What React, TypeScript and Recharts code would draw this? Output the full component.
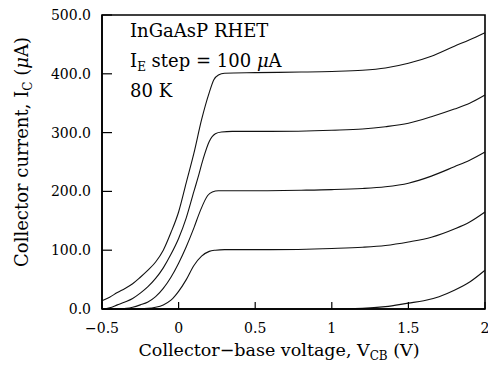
import React from 'react';
import { LineChart, Line, XAxis, YAxis, ReferenceArea } from 'recharts';

const xTicks = [-0.5, 0, 0.5, 1, 1.5, 2];
const xTickLabels = ['\u22120.5', '0', '0.5', '1', '1.5', '2'];
const yTicks = [0, 100, 200, 300, 400, 500];
const yTickLabels = ['0.0', '100.0', '200.0', '300.0', '400.0', '500.0'];

// Collector current (µA) vs collector-base voltage (V) for each emitter current step
const curve400: [number, number][] = [
  [-0.5, 14], [-0.45, 20], [-0.4, 28], [-0.35, 35], [-0.3, 43], [-0.25, 54], [-0.2, 66],
  [-0.15, 80], [-0.1, 100], [-0.05, 130], [0, 165], [0.05, 215], [0.1, 265], [0.15, 322],
  [0.2, 368], [0.23, 390], [0.26, 398], [0.3, 401], [0.5, 402], [0.8, 403], [1.0, 404],
  [1.2, 406], [1.35, 410], [1.5, 418], [1.65, 430], [1.8, 447], [1.9, 458], [2.0, 470],
];
const curve300: [number, number][] = [
  [-0.5, 0], [-0.45, 2], [-0.4, 7], [-0.35, 12], [-0.3, 18], [-0.25, 27], [-0.2, 38],
  [-0.15, 52], [-0.1, 70], [-0.05, 93], [0, 120], [0.05, 155], [0.1, 200], [0.125, 222],
  [0.16, 255], [0.2, 285], [0.24, 298], [0.28, 301], [0.35, 302], [0.6, 302], [1.0, 304],
  [1.2, 306], [1.35, 310], [1.5, 316], [1.65, 327], [1.8, 340], [1.9, 350], [2.0, 364],
];
const curve200: [number, number][] = [
  [-0.5, 0], [-0.4, 0], [-0.34, 1], [-0.3, 3], [-0.25, 7], [-0.2, 12], [-0.15, 21],
  [-0.1, 35], [-0.05, 54], [0, 78], [0.05, 106], [0.1, 138], [0.14, 166], [0.19, 193],
  [0.22, 199], [0.26, 201], [0.4, 201], [0.8, 202], [1.0, 203], [1.2, 205], [1.35, 208],
  [1.5, 214], [1.65, 226], [1.8, 242], [1.9, 253], [2.0, 267],
];
const curve100: [number, number][] = [
  [-0.5, 0], [-0.3, 0], [-0.2, 1], [-0.15, 3], [-0.1, 7], [-0.05, 15], [0, 30], [0.05, 50],
  [0.1, 74], [0.15, 90], [0.2, 98], [0.24, 100], [0.3, 101], [0.6, 101], [1.0, 103],
  [1.2, 105], [1.35, 108], [1.5, 114], [1.65, 122], [1.8, 136], [1.9, 148], [2.0, 165],
];
const curve0: [number, number][] = [
  [-0.5, 0], [1.0, 0], [1.2, 1], [1.35, 4], [1.5, 10], [1.6, 14], [1.7, 21], [1.8, 32],
  [1.9, 46], [2.0, 66],
];

const curves = [curve400, curve300, curve200, curve100, curve0];
const toRows = (c: [number, number][]) => c.map(([v, i]) => ({ v, i }));

const serif = 'DejaVu Serif';

const XTick = (props: any) => {
  const { x, y, payload } = props;
  const idx = xTicks.indexOf(payload.value);
  return (
    <g>
      <line x1={x} x2={x} y1={y} y2={y - 7} stroke="#000" strokeWidth={1.2} />
      <text x={x} y={y + 24} textAnchor="middle" fontFamily={serif} fontSize={14} fill="#000">
        {xTickLabels[idx]}
      </text>
    </g>
  );
};

const YTick = (props: any) => {
  const { x, y, payload } = props;
  const idx = yTicks.indexOf(payload.value);
  return (
    <g>
      <line x1={x} x2={x + 10} y1={y} y2={y} stroke="#000" strokeWidth={1.2} />
      <text x={x - 11} y={y + 5} textAnchor="end" fontFamily={serif} fontSize={14} fill="#000">
        {yTickLabels[idx]}
      </text>
    </g>
  );
};

export default function App() {
  return (
    <div style={{ position: 'absolute', left: 0, top: 0, width: 488, height: 368, background: '#fff' }}>
      <LineChart width={488} height={368} margin={{ top: 15, right: 3, left: 0, bottom: 0 }}>
        <XAxis
          type="number"
          dataKey="v"
          domain={[-0.5, 2]}
          ticks={xTicks}
          interval={0}
          height={59}
          tickLine={false}
          tickSize={0}
          tickMargin={0}
          tick={<XTick />}
          axisLine={{ stroke: '#000', strokeWidth: 1.6 }}
        />
        <YAxis
          type="number"
          dataKey="i"
          domain={[0, 500]}
          ticks={yTicks}
          interval={0}
          width={102}
          tickLine={false}
          tickSize={0}
          tickMargin={0}
          tick={<YTick />}
          axisLine={{ stroke: '#000', strokeWidth: 1.6 }}
        />
        <ReferenceArea x1={-0.5} x2={2} y1={0} y2={500} fill="none" stroke="#000" strokeWidth={1.6} ifOverflow="visible" />
        {curves.map((c, k) => (
          <Line
            key={k}
            data={toRows(c)}
            dataKey="i"
            type="monotone"
            dot={false}
            stroke="#111"
            strokeWidth={1.1}
            isAnimationActive={false}
          />
        ))}
      </LineChart>
      <svg width={488} height={368} style={{ position: 'absolute', left: 0, top: 0, pointerEvents: 'none' }}>
        <g fontFamily={serif} fill="#000">
          <text x={130} y={37} fontSize={18}>InGaAsP RHET</text>
          <text x={130} y={67} fontSize={18}>
            I<tspan fontSize={12} dy={4}>E</tspan>
            <tspan dy={-4}> step = 100 </tspan>
            <tspan fontStyle="italic">μ</tspan>A
          </text>
          <text x={130} y={97} fontSize={18}>80 K</text>
          <text x={279} y={356} fontSize={17.5} textAnchor="middle">
            Collector−base voltage, V<tspan fontSize={12} dy={4}>CB</tspan>
            <tspan dy={-4}> (V)</tspan>
          </text>
          <text transform="translate(28,152) rotate(-90)" fontSize={18} textAnchor="middle">
            Collector current, I<tspan fontSize={12} dy={4}>C</tspan>
            <tspan dy={-4}> (</tspan>
            <tspan fontStyle="italic">μ</tspan>A)
          </text>
        </g>
      </svg>
    </div>
  );
}
